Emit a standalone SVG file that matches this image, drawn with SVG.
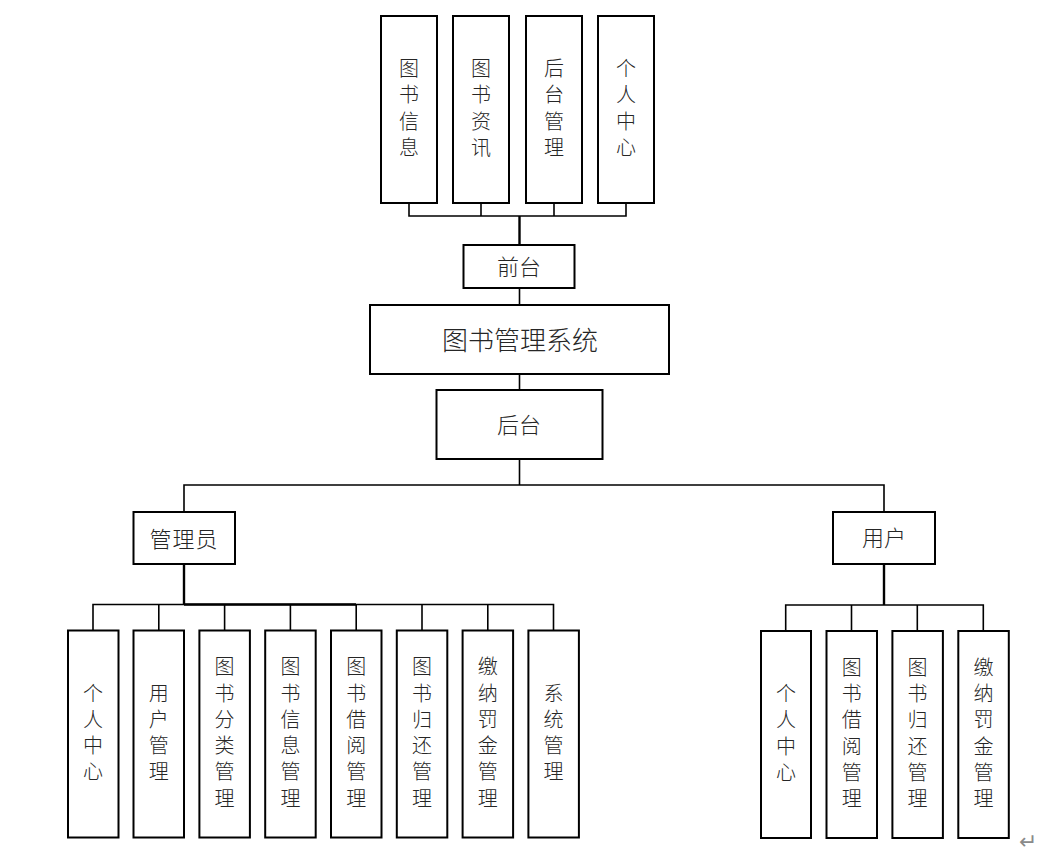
<svg xmlns="http://www.w3.org/2000/svg" width="1064" height="857" viewBox="0 0 1064 857">
<style>
rect.b{fill:#fff;stroke:#000;stroke-width:2}
text{font-family:"Noto Sans CJK SC","Noto Sans",sans-serif;font-weight:300;fill:#262626;text-anchor:middle;dominant-baseline:central;transform:translateY(-2px)}
.v{font-size:20px}
.m{font-size:22px}
.t{font-size:26px}
.c line,.c polyline{stroke:#000;stroke-width:1.6;fill:none}
.c .k{stroke-width:2.4}
</style>
<rect width="1064" height="857" fill="#fff"/>
<g class="c" id="connectors">
<polyline points="409,203 409,216 626,216 626,203"/>
<line x1="481" y1="203" x2="481" y2="216"/>
<line x1="554" y1="203" x2="554" y2="216"/>
<line class="k" x1="519.5" y1="216" x2="519.5" y2="245"/>
<line x1="519.5" y1="288" x2="519.5" y2="305"/>
<line x1="519.5" y1="374" x2="519.5" y2="390"/>
<line x1="519.5" y1="459" x2="519.5" y2="485"/>
<polyline points="184,512 184,485 884,485 884,512"/>
<line class="k" x1="184" y1="564" x2="184" y2="604.5"/>
<polyline points="93,630 93,604.5 553.5,604.5 553.5,630"/>
<line class="k" x1="184" y1="604.5" x2="356" y2="604.5"/>
<line x1="158.8" y1="604.5" x2="158.8" y2="630"/>
<line x1="224.6" y1="604.5" x2="224.6" y2="630"/>
<line x1="290.4" y1="604.5" x2="290.4" y2="630"/>
<line x1="356.2" y1="604.5" x2="356.2" y2="630"/>
<line x1="422" y1="604.5" x2="422" y2="630"/>
<line x1="487.8" y1="604.5" x2="487.8" y2="630"/>
<line class="k" x1="884" y1="564" x2="884" y2="605"/>
<polyline points="785.7,631 785.7,605 983.3,605 983.3,631"/>
<line x1="851.5" y1="605" x2="851.5" y2="631"/>
<line x1="917.3" y1="605" x2="917.3" y2="631"/>
</g>
<g id="n-tsxx"><rect class="b" x="381" y="16" width="56" height="187"/><text class="v"><tspan x="409" y="68.5">图</tspan><tspan x="409" y="95">书</tspan><tspan x="409" y="121.5">信</tspan><tspan x="409" y="148">息</tspan></text></g>
<g id="n-tszx"><rect class="b" x="453" y="16" width="56" height="187"/><text class="v"><tspan x="481" y="68.5">图</tspan><tspan x="481" y="95">书</tspan><tspan x="481" y="121.5">资</tspan><tspan x="481" y="148">讯</tspan></text></g>
<g id="n-htgl"><rect class="b" x="526" y="16" width="56" height="187"/><text class="v"><tspan x="554" y="68.5">后</tspan><tspan x="554" y="95">台</tspan><tspan x="554" y="121.5">管</tspan><tspan x="554" y="148">理</tspan></text></g>
<g id="n-grzx"><rect class="b" x="598" y="16" width="56" height="187"/><text class="v"><tspan x="626" y="68.5">个</tspan><tspan x="626" y="95">人</tspan><tspan x="626" y="121.5">中</tspan><tspan x="626" y="148">心</tspan></text></g>
<g id="n-qiantai"><rect class="b" x="463.5" y="245" width="111" height="43"/><text class="m" x="519" y="267">前台</text></g>
<g id="n-system"><rect class="b" x="370" y="305" width="299" height="69"/><text class="t" x="520" y="340">图书管理系统</text></g>
<g id="n-houtai"><rect class="b" x="436.5" y="390" width="166" height="69"/><text class="m" x="519" y="425">后台</text></g>
<g id="n-admin"><rect class="b" x="133.5" y="512" width="101.5" height="52"/><text class="m" x="184" y="539" letter-spacing="1">管理员</text></g>
<g id="n-user"><rect class="b" x="833" y="512" width="102" height="52"/><text class="m" x="884" y="538">用户</text></g>
<g id="a1"><rect class="b" x="68" y="630.5" width="50.5" height="207"/><text class="v"><tspan x="93" y="693.5">个</tspan><tspan x="93" y="719.8">人</tspan><tspan x="93" y="746.1">中</tspan><tspan x="93" y="772.4">心</tspan></text></g>
<g id="a2"><rect class="b" x="133.5" y="630.5" width="50.5" height="207"/><text class="v"><tspan x="158.8" y="693.5">用</tspan><tspan x="158.8" y="719.8">户</tspan><tspan x="158.8" y="746.1">管</tspan><tspan x="158.8" y="772.4">理</tspan></text></g>
<g id="a3"><rect class="b" x="199.4" y="630.5" width="50.5" height="207"/><text class="v"><tspan x="224.6" y="667.2">图</tspan><tspan x="224.6" y="693.5">书</tspan><tspan x="224.6" y="719.8">分</tspan><tspan x="224.6" y="746.1">类</tspan><tspan x="224.6" y="772.4">管</tspan><tspan x="224.6" y="798.7">理</tspan></text></g>
<g id="a4"><rect class="b" x="265.2" y="630.5" width="50.5" height="207"/><text class="v"><tspan x="290.4" y="667.2">图</tspan><tspan x="290.4" y="693.5">书</tspan><tspan x="290.4" y="719.8">信</tspan><tspan x="290.4" y="746.1">息</tspan><tspan x="290.4" y="772.4">管</tspan><tspan x="290.4" y="798.7">理</tspan></text></g>
<g id="a5"><rect class="b" x="331" y="630.5" width="50.5" height="207"/><text class="v"><tspan x="356.2" y="667.2">图</tspan><tspan x="356.2" y="693.5">书</tspan><tspan x="356.2" y="719.8">借</tspan><tspan x="356.2" y="746.1">阅</tspan><tspan x="356.2" y="772.4">管</tspan><tspan x="356.2" y="798.7">理</tspan></text></g>
<g id="a6"><rect class="b" x="396.8" y="630.5" width="50.5" height="207"/><text class="v"><tspan x="422" y="667.2">图</tspan><tspan x="422" y="693.5">书</tspan><tspan x="422" y="719.8">归</tspan><tspan x="422" y="746.1">还</tspan><tspan x="422" y="772.4">管</tspan><tspan x="422" y="798.7">理</tspan></text></g>
<g id="a7"><rect class="b" x="462.6" y="630.5" width="50.5" height="207"/><text class="v"><tspan x="487.8" y="667.2">缴</tspan><tspan x="487.8" y="693.5">纳</tspan><tspan x="487.8" y="719.8">罚</tspan><tspan x="487.8" y="746.1">金</tspan><tspan x="487.8" y="772.4">管</tspan><tspan x="487.8" y="798.7">理</tspan></text></g>
<g id="a8"><rect class="b" x="528.4" y="630.5" width="50.5" height="207"/><text class="v"><tspan x="553.6" y="693.5">系</tspan><tspan x="553.6" y="719.8">统</tspan><tspan x="553.6" y="746.1">管</tspan><tspan x="553.6" y="772.4">理</tspan></text></g>
<g id="u1"><rect class="b" x="761" y="631" width="50" height="207"/><text class="v"><tspan x="786" y="694">个</tspan><tspan x="786" y="720.3">人</tspan><tspan x="786" y="746.6">中</tspan><tspan x="786" y="772.9">心</tspan></text></g>
<g id="u2"><rect class="b" x="826.5" y="631" width="50.5" height="207"/><text class="v"><tspan x="851.7" y="667.7">图</tspan><tspan x="851.7" y="694">书</tspan><tspan x="851.7" y="720.3">借</tspan><tspan x="851.7" y="746.6">阅</tspan><tspan x="851.7" y="772.9">管</tspan><tspan x="851.7" y="799.2">理</tspan></text></g>
<g id="u3"><rect class="b" x="892.4" y="631" width="50.5" height="207"/><text class="v"><tspan x="917.5" y="667.7">图</tspan><tspan x="917.5" y="694">书</tspan><tspan x="917.5" y="720.3">归</tspan><tspan x="917.5" y="746.6">还</tspan><tspan x="917.5" y="772.9">管</tspan><tspan x="917.5" y="799.2">理</tspan></text></g>
<g id="u4"><rect class="b" x="958.3" y="631" width="50.5" height="207"/><text class="v"><tspan x="983.5" y="667.7">缴</tspan><tspan x="983.5" y="694">纳</tspan><tspan x="983.5" y="720.3">罚</tspan><tspan x="983.5" y="746.6">金</tspan><tspan x="983.5" y="772.9">管</tspan><tspan x="983.5" y="799.2">理</tspan></text></g>
<text x="1028" y="843" style="font-family:'DejaVu Sans',sans-serif;font-weight:normal;font-size:22px;fill:#8a8a8a">↵</text>
</svg>
